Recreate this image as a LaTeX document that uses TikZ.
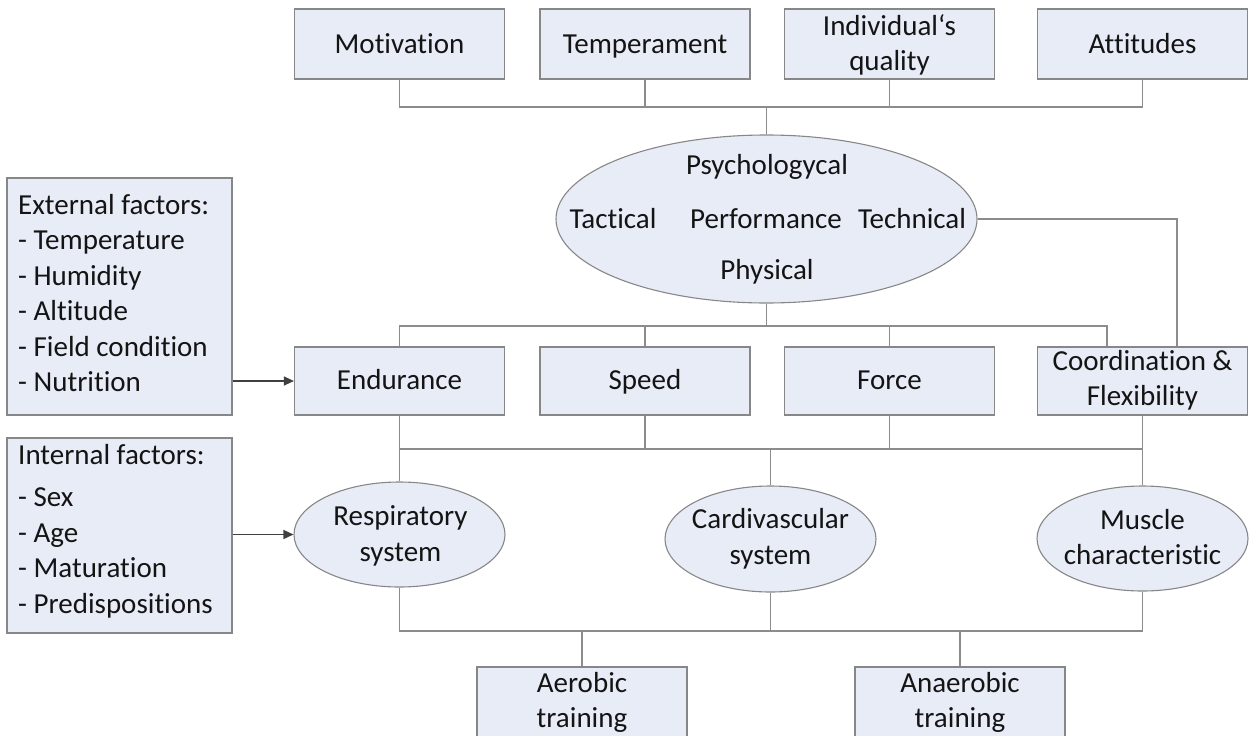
\documentclass[tikz,border=0pt]{standalone}
\usepackage{fontspec}
\setmainfont{Carlito}[Ligatures=CommonOff]
\usetikzlibrary{shapes.geometric,arrows.meta}
\definecolor{boxfill}{RGB}{231,236,247}
\definecolor{boxline}{RGB}{135,135,135}
\definecolor{conn}{RGB}{140,140,140}
\definecolor{ink}{RGB}{20,20,20}
\newcommand{\mlc}[1]{\begin{tabular}[t]{@{}c@{}}#1\end{tabular}}
\newcommand{\mll}[1]{\begin{tabular}[t]{@{}l@{}}#1\end{tabular}}
\begin{document}
\begin{tikzpicture}[x=1pt,y=-1pt,
  box/.style={draw=boxline, fill=boxfill, line width=1.2pt, rectangle, inner sep=0pt, minimum width=210pt, minimum height=70pt},
  oval/.style={draw=boxline, fill=boxfill, line width=1.1pt, ellipse, inner sep=0pt},
  txt/.style={font=\fontsize{29}{35.5}\selectfont, inner sep=0pt, anchor=base, text=ink},
  link/.style={draw=conn, line width=1.3pt},
  arr/.style={draw=black!75, line width=1.3pt, -{Triangle[length=10pt,width=9pt]}}]
\useasboundingbox (0,0) rectangle (1250,736);

% top row
\node[box] (mot) at (399.5,44) {};
\node[box] (tem) at (645,44) {};
\node[box] (ind) at (889.5,44) {};
\node[box] (att) at (1142.5,44) {};
\node[txt] (motT) at (399.5,53.3) {Motivation};
\node[txt] (temT) at (645,53.3) {Temperament};
\node[txt] (indT) at (889.5,35) {\mlc{Individual‘s\\quality}};
\node[txt] (attT) at (1142.5,53.3) {Attitudes};

% performance ellipse
\node[oval, minimum width=421pt, minimum height=168pt] (perf) at (766.5,219) {};
\node[txt] (psy) at (767,174) {Psychologycal};
\node[txt] (tac) at (613,228) {Tactical};
\node[txt] (per) at (766,228) {Performance};
\node[txt] (tec) at (912,228) {Technical};
\node[txt] (phy) at (767,279) {Physical};

% left factor boxes
\node[box, minimum width=225pt, minimum height=237pt] (ext) at (119.5,296.5) {};
\node[txt, anchor=base west] (extT) at (18,214) {\mll{External factors:\\- Temperature\\- Humidity\\- Altitude\\- Field condition\\- Nutrition}};
\node[box, minimum width=225pt, minimum height=195pt] (int) at (119.5,535.5) {};
\node[txt, anchor=base west] (intT) at (18,464) {\mll{Internal factors:\\[7pt]- Sex\\- Age\\- Maturation\\- Predispositions}};

% middle row
\node[box, minimum height=68pt] (endu) at (399.5,381) {};
\node[box, minimum height=68pt] (spd) at (645,381) {};
\node[box, minimum height=68pt] (frc) at (889.5,381) {};
\node[box, minimum height=68pt] (coo) at (1142.5,381) {};
\node[txt] (enduT) at (399.5,389.5) {Endurance};
\node[txt] (spdT) at (645,389.5) {Speed};
\node[txt] (frcT) at (889.5,389.5) {Force};
\node[txt] (cooT) at (1142.5,370) {\mlc{Coordination \&\\Flexibility}};

% systems
\node[oval, minimum width=211pt, minimum height=105pt] (resp) at (399.5,534.5) {};
\node[oval, minimum width=211pt, minimum height=106pt] (card) at (770.5,539) {};
\node[oval, minimum width=211pt, minimum height=105pt] (mus) at (1142.5,538.5) {};
\node[txt] (respT) at (400.5,525.5) {\mlc{Respiratory\\system}};
\node[txt] (cardT) at (770.5,528.5) {\mlc{Cardivascular\\system}};
\node[txt] (musT) at (1142.5,529) {\mlc{Muscle\\characteristic}};

% training
\node[box] (aer) at (582,702) {};
\node[box] (ana) at (960,702) {};
\node[txt] (aerT) at (582,692) {\mlc{Aerobic\\training}};
\node[txt] (anaT) at (960,692) {\mlc{Anaerobic\\training}};

% connectors: top
\coordinate (tb) at (0,107);
\draw[link] (mot.south) |- (att.south |- tb) -- (att.south);
\draw[link] (tem.south) -- (tem.south |- tb);
\draw[link] (ind.south) -- (ind.south |- tb);
\draw[link] (perf.north) -- (perf.north |- tb);

% connectors: performance to middle row
\coordinate (mb) at (0,326);
\coordinate (cfa) at ([xshift=70pt]coo.north west);
\coordinate (cfb) at ([xshift=140pt]coo.north west);
\draw[link] (endu.north) |- (cfa |- mb) -- (cfa);
\draw[link] (spd.north) -- (spd.north |- mb);
\draw[link] (frc.north) -- (frc.north |- mb);
\draw[link] (perf.south) -- (perf.south |- mb);
\draw[link] (perf.east) -| (cfb);

% connectors: middle row to systems
\coordinate (lb) at (0,449);
\draw[link] (endu.south) -- (resp.north);
\draw[link] (coo.south) -- (mus.north);
\draw[link] (endu.south |- lb) -- (coo.south |- lb);
\draw[link] (spd.south) -- (spd.south |- lb);
\draw[link] (frc.south) -- (frc.south |- lb);
\draw[link] (card.north) -- (card.north |- lb);

% connectors: systems to training
\coordinate (bb) at (0,631);
\draw[link] (resp.south) |- (mus.south |- bb) -- (mus.south);
\draw[link] (card.south) -- (card.south |- bb);
\draw[link] (aer.north) -- (aer.north |- bb);
\draw[link] (ana.north) -- (ana.north |- bb);

% arrows from factors
\draw[arr] (ext.east |- endu.west) -- (endu.west);
\draw[arr] (int.east |- resp.west) -- (resp.west);
\end{tikzpicture}
\end{document}
